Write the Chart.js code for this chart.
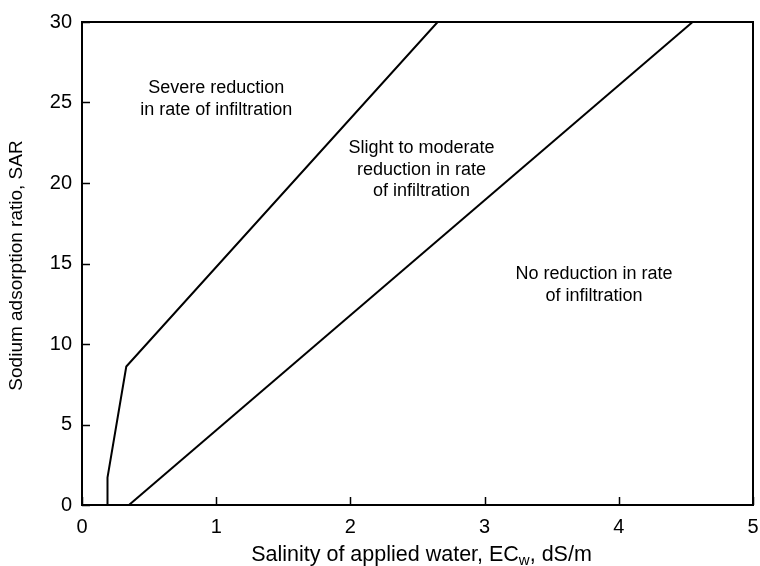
<!DOCTYPE html>
<html>
<head>
<meta charset="utf-8">
<script src="https://cdn.jsdelivr.net/npm/chart.js@4.4.0/dist/chart.umd.min.js"></script>
<style>
  html, body { margin: 0; padding: 0; background: #fff; }
  #wrap { width: 760px; height: 566px; }
</style>
</head>
<body>
<div id="wrap"><canvas id="chart" width="760" height="566"></canvas></div>
<script>
// boundary lines (ECw in dS/m, SAR)
const severeEC = [0.19, 0.19, 0.33, 2.65];
const severeSAR = [0, 1.7, 8.6, 30];
const noneEC = [0.35, 4.55];
const noneSAR = [0, 30];

const xTicks = [0, 1, 2, 3, 4, 5];
const yTicks = [0, 5, 10, 15, 20, 25, 30];

// region labels: centre x and baseline y of the first line (data units)
const regionLabels = [
  { x: 1.0, y: 25.6, lines: ["Severe reduction", "in rate of infiltration"] },
  { x: 2.53, y: 21.86, lines: ["Slight to moderate", "reduction in rate", "of infiltration"] },
  { x: 3.815, y: 14.04, lines: ["No reduction in rate", "of infiltration"] }
];

const FONT = "'Liberation Sans', Arial, Helvetica, sans-serif";

function toPoints(xs, ys) {
  return xs.map((x, i) => ({ x: x, y: ys[i] }));
}

// frame, inward ticks, axis titles and region text
const decorations = {
  id: 'decorations',
  afterDraw(chart) {
    const ctx = chart.ctx;
    const area = chart.chartArea;
    const xs = chart.scales.x, ys = chart.scales.y;
    ctx.save();
    ctx.strokeStyle = '#000';
    ctx.lineWidth = 2;
    ctx.strokeRect(area.left, area.top, area.right - area.left, area.bottom - area.top);

    // inward tick marks
    ctx.lineWidth = 1.5;
    ctx.beginPath();
    xTicks.forEach(v => {
      const px = Math.round(xs.getPixelForValue(v)) + 0.5;
      ctx.moveTo(px, area.bottom);
      ctx.lineTo(px, area.bottom - 8);
    });
    yTicks.forEach(v => {
      const py = Math.round(ys.getPixelForValue(v)) + 0.5;
      ctx.moveTo(area.left, py);
      ctx.lineTo(area.left + 8, py);
    });
    ctx.stroke();

    ctx.fillStyle = '#000';

    // region labels
    ctx.font = '18px ' + FONT;
    ctx.textAlign = 'center';
    ctx.textBaseline = 'alphabetic';
    regionLabels.forEach(r => {
      const cx = xs.getPixelForValue(r.x);
      const cy = ys.getPixelForValue(r.y);
      r.lines.forEach((t, i) => ctx.fillText(t, cx, cy + i * 21.7));
    });

    // x axis title with subscript
    const mainFont = '21.5px ' + FONT;
    const subFont = '15px ' + FONT;
    ctx.textAlign = 'left';
    const parts = ["Salinity of applied water, EC", "w", ", dS/m"];
    ctx.font = mainFont;
    const w0 = ctx.measureText(parts[0]).width;
    const w2 = ctx.measureText(parts[2]).width;
    ctx.font = subFont;
    const w1 = ctx.measureText(parts[1]).width;
    let tx = 421.5 - (w0 + w1 + w2) / 2;
    const ty = 561;
    ctx.font = mainFont;
    ctx.fillText(parts[0], tx, ty);
    tx += w0;
    ctx.font = subFont;
    ctx.fillText(parts[1], tx, ty + 4);
    tx += w1;
    ctx.font = mainFont;
    ctx.fillText(parts[2], tx, ty);

    // y axis title
    ctx.save();
    ctx.translate(17, (area.top + area.bottom) / 2 + 2);
    ctx.rotate(-Math.PI / 2);
    ctx.textAlign = 'center';
    ctx.textBaseline = 'middle';
    ctx.font = '19px ' + FONT;
    ctx.fillText("Sodium adsorption ratio, SAR", 0, 0);
    ctx.restore();

    ctx.restore();
  }
};

new Chart(document.getElementById('chart'), {
  type: 'line',
  data: {
    datasets: [
      {
        label: 'Severe boundary',
        data: toPoints(severeEC, severeSAR),
        borderColor: '#000',
        borderWidth: 2,
        pointRadius: 0,
        tension: 0
      },
      {
        label: 'No reduction boundary',
        data: toPoints(noneEC, noneSAR),
        borderColor: '#000',
        borderWidth: 2,
        pointRadius: 0,
        tension: 0
      }
    ]
  },
  options: {
    responsive: false,
    animation: false,
    layout: { padding: { top: 22, right: 7, left: 0, bottom: 0 } },
    plugins: {
      legend: { display: false },
      tooltip: { enabled: false }
    },
    scales: {
      x: {
        type: 'linear',
        min: 0,
        max: 5,
        afterFit(scale) {
          scale.height = 61;
          scale.paddingLeft = 0;
          scale.paddingRight = 0;
        },
        afterBuildTicks(scale) { scale.ticks = xTicks.map(v => ({ value: v })); },
        grid: { display: true, drawOnChartArea: false, drawTicks: false },
        border: { display: false },
        ticks: { color: '#000', font: { family: FONT, size: 20 }, padding: 10, maxRotation: 0 }
      },
      y: {
        type: 'linear',
        min: 0,
        max: 30,
        afterFit(scale) {
          scale.width = 82;
          scale.paddingTop = 0;
          scale.paddingBottom = 0;
        },
        afterBuildTicks(scale) { scale.ticks = yTicks.map(v => ({ value: v })); },
        grid: { display: true, drawOnChartArea: false, drawTicks: false },
        border: { display: false },
        ticks: { color: '#000', font: { family: FONT, size: 20 }, padding: 10 }
      }
    }
  },
  plugins: [decorations]
});
</script>
</body>
</html>
